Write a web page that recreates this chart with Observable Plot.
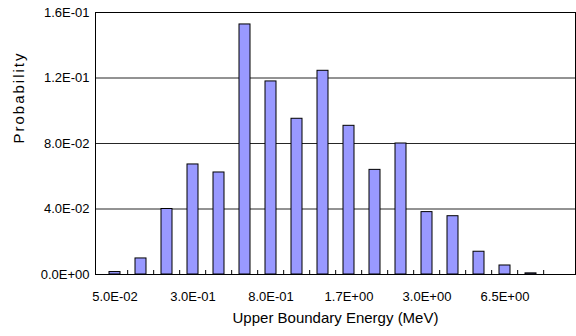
<!DOCTYPE html>
<html>
<head>
<meta charset="utf-8">
<script src="https://cdn.jsdelivr.net/npm/d3@7"></script>
<script src="https://cdn.jsdelivr.net/npm/@observablehq/plot@0.6"></script>
<style>
  body { margin: 0; background: #fff; }
</style>
</head>
<body>
<div id="chart"></div>
<script>
// 18-group gamma structure: upper boundary of each energy group (MeV)
const energies = ["5.0E-02", "1.0E-01", "2.0E-01", "3.0E-01", "4.0E-01", "6.0E-01",
                  "8.0E-01", "1.0E+00", "1.3E+00", "1.7E+00", "2.0E+00", "2.5E+00",
                  "3.0E+00", "4.0E+00", "5.0E+00", "6.5E+00", "8.0E+00", "1.0E+01"];
// Probability of emission in each group
const probability = [0.0015, 0.0098, 0.0400, 0.0672, 0.0623, 0.1527,
                     0.1179, 0.0951, 0.1244, 0.0908, 0.0639, 0.0800,
                     0.0381, 0.0356, 0.0139, 0.0055, 0.0007, 0];
// Value axis ticks and their labels
const yTicks = [0, 0.04, 0.08, 0.12, 0.16];
const yTickLabels = ["0.0E+00", "4.0E-02", "8.0E-02", "1.2E-01", "1.6E-01"];
// Only every third group is labelled on the category axis
const xTickLabels = energies.filter((d, i) => i % 3 === 0);

const rows = energies.map((e, i) => ({energy: e, p: probability[i]}));

const W = 576, H = 336;
const mL = 95, mR = 1, mT = 12, mB = 62;
const step = (W - mL - mR) / energies.length;
const plotH = H - mT - mB;

const chart = Plot.plot({
  width: W,
  height: H,
  marginLeft: mL,
  marginRight: mR,
  marginTop: mT,
  marginBottom: mB,
  style: {fontFamily: "'Liberation Sans', Arial, sans-serif", background: "#fff", color: "#000"},
  x: {type: "band", domain: energies, paddingInner: 0.59, paddingOuter: 0.295, axis: null},
  y: {domain: [0, 0.16], axis: null},
  marks: [
    Plot.ruleY(yTicks.slice(1, -1), {stroke: "#000", strokeOpacity: 0.85}),
    Plot.barY(rows, {x: "energy", y: "p", fill: "#9999FF", stroke: "#000", strokeWidth: 1}),
    // small inward tick marks between groups
    Plot.ruleX(energies.slice(1), {dx: -step / 2, insetTop: plotH - 4, stroke: "#000"}),
    Plot.frame({stroke: "#000"}),
    Plot.axisY(yTicks, {
      tickSize: 0, tickPadding: 6, fontSize: 13, label: null,
      tickFormat: d => yTickLabels[yTicks.indexOf(d)]
    }),
    Plot.axisX(xTickLabels, {tickSize: 0, tickPadding: 17, fontSize: 13, label: null}),
    Plot.text(["Upper Boundary Energy (MeV)"], {frameAnchor: "bottom", dy: 48, fontSize: 15}),
    Plot.text(["Probability"], {frameAnchor: "left", dx: -76, rotate: -90, fontSize: 15})
  ]
});

d3.select(chart).selectAll("text")
  .filter(function () { return this.textContent === "Probability"; })
  .style("letter-spacing", "2px");

document.getElementById("chart").appendChild(chart);
</script>
</body>
</html>
